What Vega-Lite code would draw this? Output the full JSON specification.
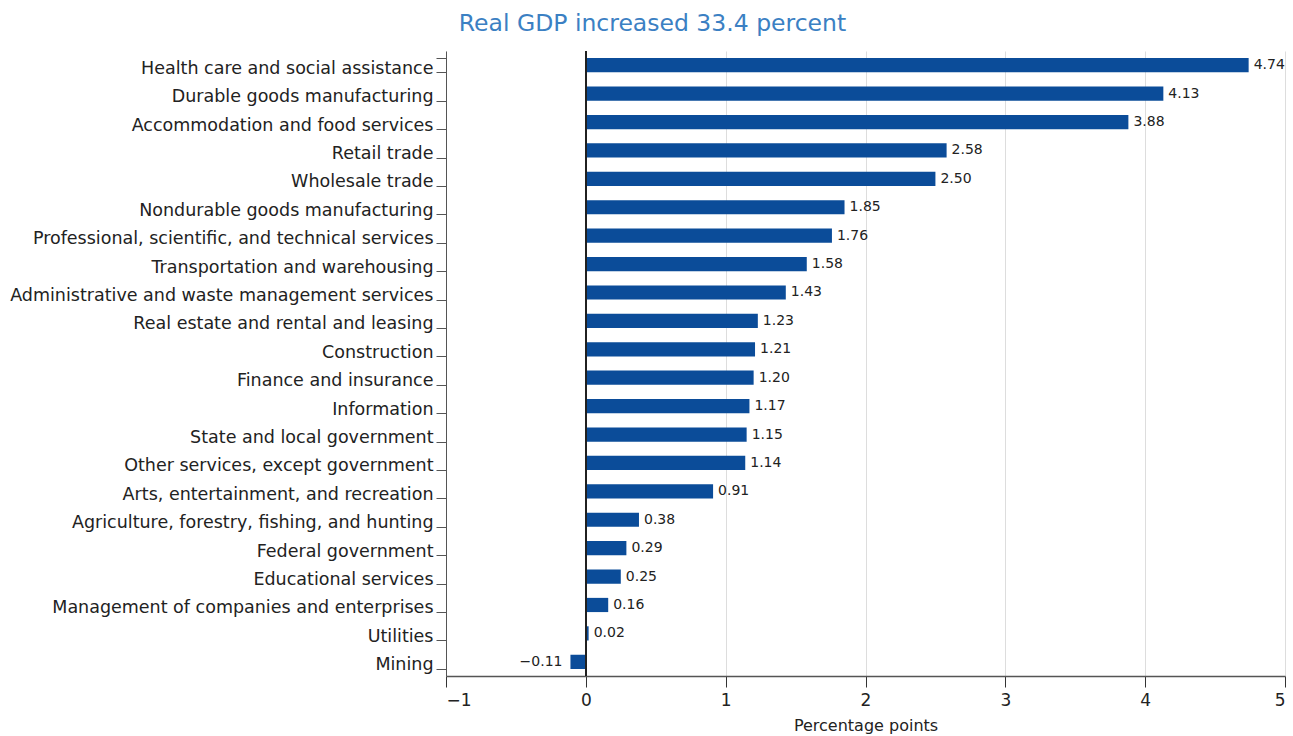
{
  "$schema": "https://vega.github.io/schema/vega-lite/v6.json",
  "width": 839,
  "height": 625,
  "autosize": {"type": "none"},
  "padding": {"left": 446, "top": 51, "right": 8, "bottom": 60},
  "background": "white",
  "title": {
    "text": "Real GDP increased 33.4 percent",
    "color": "#3b80c3",
    "font": "DejaVu Sans",
    "fontSize": 23.5,
    "fontWeight": "normal",
    "anchor": "middle",
    "frame": "group",
    "dx": -213,
    "offset": 7
  },
  "config": {
    "font": "DejaVu Sans",
    "view": {"stroke": null}
  },
  "data": {
    "values": [
      {"industry": "Health care and social assistance", "v": 4.74},
      {"industry": "Durable goods manufacturing", "v": 4.13},
      {"industry": "Accommodation and food services", "v": 3.88},
      {"industry": "Retail trade", "v": 2.58},
      {"industry": "Wholesale trade", "v": 2.50},
      {"industry": "Nondurable goods manufacturing", "v": 1.85},
      {"industry": "Professional, scientific, and technical services", "v": 1.76},
      {"industry": "Transportation and warehousing", "v": 1.58},
      {"industry": "Administrative and waste management services", "v": 1.43},
      {"industry": "Real estate and rental and leasing", "v": 1.23},
      {"industry": "Construction", "v": 1.21},
      {"industry": "Finance and insurance", "v": 1.20},
      {"industry": "Information", "v": 1.17},
      {"industry": "State and local government", "v": 1.15},
      {"industry": "Other services, except government", "v": 1.14},
      {"industry": "Arts, entertainment, and recreation", "v": 0.91},
      {"industry": "Agriculture, forestry, fishing, and hunting", "v": 0.38},
      {"industry": "Federal government", "v": 0.29},
      {"industry": "Educational services", "v": 0.25},
      {"industry": "Management of companies and enterprises", "v": 0.16},
      {"industry": "Utilities", "v": 0.02},
      {"industry": "Mining", "v": -0.11}
    ]
  },
  "encoding": {
    "y": {
      "field": "industry",
      "type": "nominal",
      "sort": null,
      "scale": {"paddingInner": 0.5, "paddingOuter": 0.25},
      "axis": {
        "title": null,
        "tickBand": "extent",
        "domainColor": "#555555",
        "tickColor": "#555555",
        "tickSize": 10,
        "labelPadding": 3,
        "labelFontSize": 17.5,
        "labelColor": "#222222",
        "labelLimit": 600,
        "labelBaseline": "middle",
        "labelOffset": 3,
        "grid": false
      }
    }
  },
  "layer": [
    {
      "mark": {"type": "bar", "color": "#0b4c99"},
      "encoding": {
        "x": {
          "field": "v",
          "type": "quantitative",
          "scale": {"domain": [-1, 5], "nice": false},
          "axis": {
            "title": "Percentage points",
            "titleFontSize": 16,
            "titleFontWeight": "normal",
            "titleColor": "#222222",
            "titlePadding": 9,
            "values": [-1, 0, 1, 2, 3, 4, 5],
            "format": "d",
            "grid": true,
            "gridColor": "#dddddd",
            "domainColor": "#555555",
            "domainWidth": 1.5,
            "tickColor": "#333333",
            "tickSize": 11,
            "labelFontSize": 17,
            "labelColor": "#222222",
            "labelPadding": 5
          }
        }
      }
    },
    {
      "mark": {"type": "rule", "color": "#222222", "strokeWidth": 1.5},
      "encoding": {"x": {"datum": 0, "type": "quantitative"}, "y": {"value": 0}, "y2": {"value": 625}}
    },
    {
      "transform": [{"filter": "datum.v >= 0"}],
      "mark": {"type": "text", "align": "left", "baseline": "middle", "dx": 5, "fontSize": 14, "color": "#222222"},
      "encoding": {
        "x": {"field": "v", "type": "quantitative"},
        "text": {"field": "v", "type": "quantitative", "format": ".2f"}
      }
    },
    {
      "transform": [{"filter": "datum.v < 0"}],
      "mark": {"type": "text", "align": "right", "baseline": "middle", "dx": -8, "fontSize": 14, "color": "#222222"},
      "encoding": {
        "x": {"field": "v", "type": "quantitative"},
        "text": {"field": "v", "type": "quantitative", "format": ".2f"}
      }
    }
  ]
}
